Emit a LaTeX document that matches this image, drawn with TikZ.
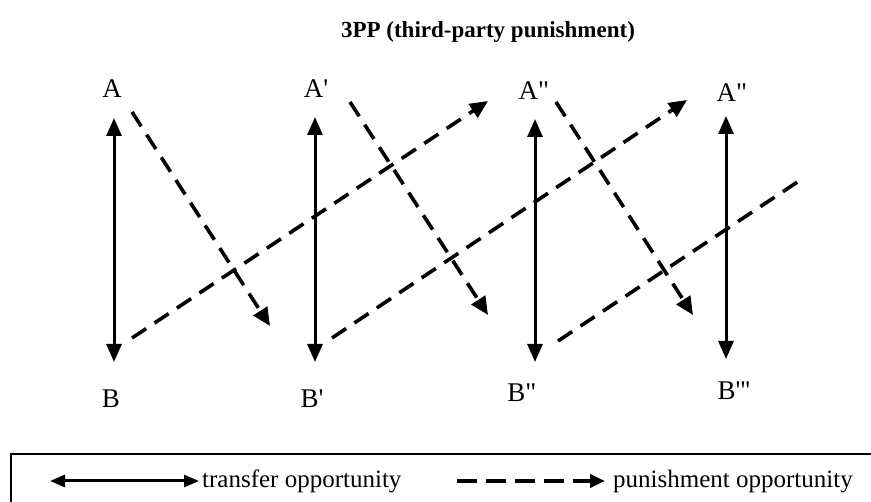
\documentclass[tikz,border=0pt]{standalone}
\usepackage{fontspec}
\setmainfont{Liberation Serif}
\usetikzlibrary{arrows.meta}
\begin{document}
\begin{tikzpicture}[x=1pt,y=-1pt,
  lbl/.style={anchor=base,inner sep=0pt,font=\fontsize{27}{30}\selectfont},
  trans/.style={line width=3pt,{Triangle[length=18pt,width=15pt]}-{Triangle[length=18pt,width=15pt]}},
  pun/.style={line width=3.6pt,dash pattern=on 17pt off 10pt,-{Triangle[length=18pt,width=16pt]}},
  punx/.style={line width=3.6pt,dash pattern=on 17pt off 10pt},
  legtrans/.style={line width=3pt,{Triangle[length=15pt,width=12pt]}-{Triangle[length=15pt,width=12pt]}},
  legpun/.style={line width=4pt,dash pattern=on 20pt off 9pt,-{Triangle[length=15pt,width=13pt]}},
  legtext/.style={anchor=base west,inner sep=0pt,font=\fontsize{25}{30}\selectfont},
]
\useasboundingbox (0,0) rectangle (871,502);
\clip (0,0) rectangle (871,502);

% title
\node[anchor=base,inner sep=0pt,font=\fontsize{23}{28}\selectfont\bfseries] (title) at (488,38) {3PP (third-party punishment)};

% labels
\node[lbl] (A)  at (112,98) {A};
\node[lbl] (A1) at (316,98) {A\textquotesingle};
\node[lbl] (A2) at (534,100) {A\textquotedbl};
\node[lbl] (A3) at (732,102) {A\textquotedbl};
\node[lbl] (B)  at (111,408) {B};
\node[lbl] (B1) at (312,408) {B\textquotesingle};
\node[lbl] (B2) at (522,402) {B\textquotedbl};
\node[lbl] (B3) at (734,400) {B\textquotesingle\textquotesingle\textquotesingle};

% vertical transfer arrows
\coordinate (v1t) at (114,118); \coordinate (v1b) at (114,362);
\coordinate (v2t) at (315,117); \coordinate (v2b) at (315,362);
\coordinate (v3t) at (535,119); \coordinate (v3b) at (535,362);
\coordinate (v4t) at (726,116); \coordinate (v4b) at (726,359);
\draw[trans] (v1t) -- (v1b);
\draw[trans] (v2t) -- (v2b);
\draw[trans] (v3t) -- (v3b);
\draw[trans] (v4t) -- (v4b);

% punishment arrows down-right
\coordinate (d1s) at (132,112); \coordinate (d1e) at (270,326);
\coordinate (d2s) at (350,102); \coordinate (d2e) at (488,315);
\coordinate (d3s) at (556,102); \coordinate (d3e) at (693,315);
\draw[pun] (d1s) -- (d1e);
\draw[pun] (d2s) -- (d2e);
\draw[pun] (d3s) -- (d3e);

% punishment arrows up-right
\coordinate (u1s) at (132,338); \coordinate (u1e) at (488,101);
\coordinate (u2s) at (332,338); \coordinate (u2e) at (687,100);
\coordinate (u3s) at (558,341); \coordinate (u3e) at (805,177);
\draw[pun] (u1s) -- (u1e);
\draw[pun] (u2s) -- (u2e);
\draw[punx] (u3s) -- (u3e);

% legend
\draw[line width=1.8pt] (11,454) rectangle (900,530);
\coordinate (l1) at (50,481); \coordinate (l2) at (199,481);
\draw[legtrans] (l1) -- (l2);
\node[legtext] (ltext1) at (202,488) {transfer opportunity};
\coordinate (l3) at (457,481); \coordinate (l4) at (605,481);
\draw[legpun] (l3) -- (l4);
\node[legtext] (ltext2) at (613,488) {punishment opportunity};
\end{tikzpicture}
\end{document}
